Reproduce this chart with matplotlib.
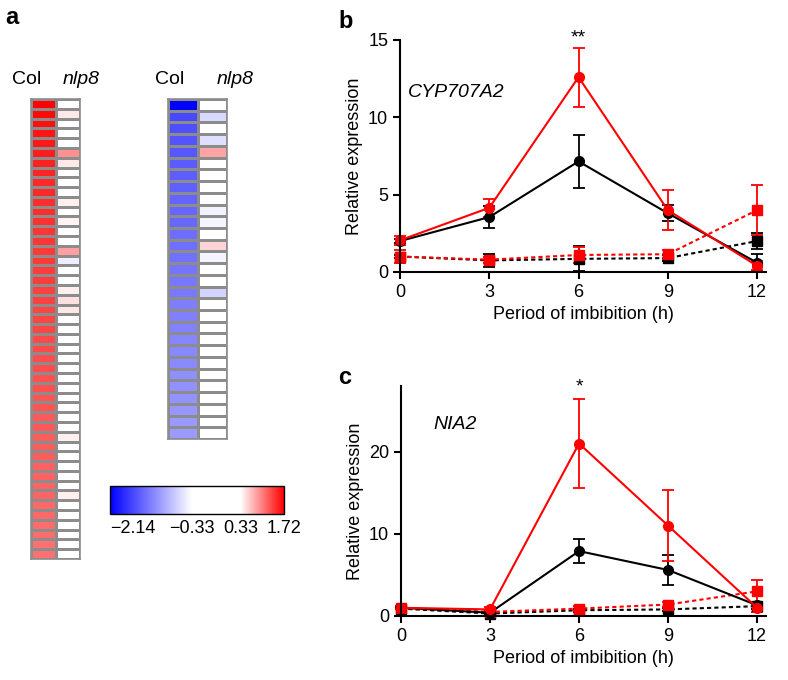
import numpy as np
import matplotlib
matplotlib.use("Agg")
import matplotlib.pyplot as plt
from matplotlib.colors import LinearSegmentedColormap, FuncNorm
from matplotlib.cm import ScalarMappable

plt.rcParams['font.family'] = ['Liberation Sans', 'DejaVu Sans']

# heatmap values (log ratio), top row first
left_col = [1.72, 1.66, 1.62, 1.60, 1.58, 1.55, 1.53, 1.52, 1.50, 1.49,
            1.47, 1.46, 1.45, 1.43, 1.42, 1.41, 1.40, 1.39, 1.38, 1.37,
            1.36, 1.35, 1.34, 1.33, 1.32, 1.31, 1.30, 1.29, 1.28, 1.27,
            1.26, 1.25, 1.24, 1.23, 1.22, 1.21, 1.20, 1.19, 1.18, 1.17,
            1.16, 1.15, 1.14, 1.13, 1.12, 1.11, 1.10]
left_nlp8 = [0.0, 0.45, 0.0, 0.0, 0.0, 0.93, 0.45, 0.0, 0.0, 0.0,
             0.40, 0.0, 0.38, 0.0, 0.0, 0.85, -0.45, 0.0, 0.0, 0.40,
             0.50, 0.45, 0.0, 0.0, 0.0, 0.0, 0.0, 0.0, 0.0, 0.0,
             0.0, 0.0, 0.0, 0.0, 0.40, 0.0, 0.0, 0.0, 0.0, 0.0,
             0.40, 0.0, 0.0, 0.0, 0.0, 0.0, 0.0]
right_col = [-2.14, -1.62, -1.58, -1.55, -1.52, -1.49, -1.47, -1.45, -1.43, -1.41,
             -1.39, -1.37, -1.35, -1.33, -1.31, -1.29, -1.27, -1.25, -1.23, -1.21,
             -1.19, -1.17, -1.15, -1.13, -1.11, -1.09, -1.07, -1.05, -1.03]
right_nlp8 = [0.0, -0.60, 0.0, -0.55, 0.82, 0.0, 0.0, 0.0, 0.0, -0.42,
              -0.40, 0.0, 0.55, -0.40, 0.0, 0.0, -0.65, 0.0, 0.0, 0.0,
              0.0, 0.0, 0.0, 0.0, 0.0, 0.0, 0.0, 0.0, 0.0]
cb_ticks = [-2.14, -0.33, 0.33, 1.72]
cb_stops = [0.0, 0.47, 0.75, 1.0]   # where each tick value sits along the bar

# qPCR time course
hours = [0, 3, 6, 9, 12]
cyp_red = [2.05, 4.15, 12.6, 4.0, 0.4]
cyp_red_err = [0.3, 0.6, 1.9, 1.3, 0.3]
cyp_black = [2.0, 3.55, 7.15, 3.8, 0.6]
cyp_black_err = [0.15, 0.7, 1.7, 0.5, 0.55]
cyp_red_dash = [1.0, 0.8, 1.1, 1.15, 4.0]
cyp_red_dash_err = [0.4, 0.2, 0.5, 0.3, 1.6]
cyp_black_dash = [1.0, 0.75, 0.85, 0.9, 2.0]
cyp_black_dash_err = [0.1, 0.4, 0.8, 0.2, 0.5]

nia_red = [1.0, 0.8, 21.0, 11.0, 1.0]
nia_red_err = [0.2, 0.3, 5.4, 4.3, 0.5]
nia_black = [1.0, 0.4, 7.9, 5.6, 1.3]
nia_black_err = [0.1, 0.2, 1.5, 1.8, 0.4]
nia_red_dash = [1.0, 0.5, 0.9, 1.4, 3.0]
nia_red_dash_err = [0.2, 0.2, 0.3, 0.3, 1.4]
nia_black_dash = [0.9, 0.3, 0.7, 0.8, 1.2]
nia_black_dash_err = [0.1, 0.1, 0.2, 0.2, 0.4]

# piecewise colour scale: blue -> white band (-0.33..0.33) -> red
norm = FuncNorm((lambda v: np.interp(v, cb_ticks, cb_stops),
                 lambda p: np.interp(p, cb_stops, cb_ticks)),
                vmin=cb_ticks[0], vmax=cb_ticks[-1])
cmap = LinearSegmentedColormap.from_list(
    "bwr_flat", [(cb_stops[0], "#0000ff"), (cb_stops[1], "white"),
                 (cb_stops[2], "white"), (cb_stops[3], "#ff0000")])

W, H = 788, 680
fig = plt.figure(figsize=(W / 100, H / 100), dpi=100)


def px(x0, y0, x1, y1):
    return [x0 / W, 1 - y1 / H, (x1 - x0) / W, (y1 - y0) / H]


def heat(rect, a, b):
    ax = fig.add_axes(rect)
    data = np.column_stack([a, b])
    ax.pcolormesh(data, cmap=cmap, norm=norm, edgecolors="#8c8c8c", linewidth=0.9)
    ax.set_xlim(0, 2)
    ax.set_ylim(len(a), 0)
    for s in ax.spines.values():
        s.set_color("#8c8c8c")
        s.set_linewidth(1.2)
    ax.set_xticks([])
    ax.set_yticks([])
    return ax


heat(px(31, 99, 80, 559), left_col, left_nlp8)
heat(px(168, 99, 227, 439), right_col, right_nlp8)

fig.text(12 / W, 1 - 80 / H, "Col", fontsize=14, va="center")
fig.text(63 / W, 1 - 80 / H, "nlp8", fontsize=14, va="center", style="italic")
fig.text(155 / W, 1 - 80 / H, "Col", fontsize=14, va="center")
fig.text(217 / W, 1 - 80 / H, "nlp8", fontsize=14, va="center", style="italic")

cax = fig.add_axes(px(110, 486, 284, 514))
cb = fig.colorbar(ScalarMappable(norm=norm, cmap=cmap), cax=cax,
                  orientation="horizontal", ticks=cb_ticks)
cb.ax.set_xticklabels([f"{t:.2f}".replace("-", "\u2212") for t in cb_ticks], fontsize=13)
cb.ax.get_xticklabels()[0].set_ha("left")
cb.ax.tick_params(length=0, pad=4)
cb.outline.set_linewidth(1.0)

fig.text(5 / W, 1 - 18 / H, "a", fontsize=17, fontweight="bold", va="center")
fig.text(338 / W, 1 - 22 / H, "b", fontsize=17, fontweight="bold", va="center")
fig.text(338 / W, 1 - 377 / H, "c", fontsize=17, fontweight="bold", va="center")


def panel(rect, series, ylim, yticks, gene, gene_xy, star, star_y):
    ax = fig.add_axes(rect)
    for y, e, color, ls, mk in series:
        ax.errorbar(hours, y, yerr=e, color=color, ls=ls, marker=mk, ms=7,
                    lw=1.5, elinewidth=1.3, capsize=4.5, capthick=1.3, clip_on=False)
    ax.set_xlim(0, 12.3)
    ax.set_ylim(*ylim)
    ax.set_xticks(hours)
    ax.set_yticks(yticks)
    ax.spines[["top", "right"]].set_visible(False)
    for s in ax.spines.values():
        s.set_linewidth(1.5)
    ax.tick_params(labelsize=13, width=1.5, length=5)
    ax.set_xlabel("Period of imbibition (h)", fontsize=13)
    ax.set_ylabel("Relative expression", fontsize=13)
    ax.text(*gene_xy, gene, fontsize=14, style="italic", va="center")
    ax.text(6, star_y, star, fontsize=14, ha="center", va="bottom")
    return ax


black, red = "black", "#ff0000"
dash = (0, (2, 1.5))
panel(px(400, 40, 766, 272),
      [(cyp_black_dash, cyp_black_dash_err, black, dash, "s"),
       (cyp_red_dash, cyp_red_dash_err, red, dash, "s"),
       (cyp_black, cyp_black_err, black, "-", "o"),
       (cyp_red, cyp_red_err, red, "-", "o")],
      (0, 15), [0, 5, 10, 15], "CYP707A2", (0.27, 11.6), "**", 14.6)

panel(px(401, 386, 766, 616),
      [(nia_black_dash, nia_black_dash_err, black, dash, "s"),
       (nia_red_dash, nia_red_dash_err, red, dash, "s"),
       (nia_black, nia_black_err, black, "-", "o"),
       (nia_red, nia_red_err, red, "-", "o")],
      (0, 28), [0, 10, 20], "NIA2", (1.1, 23.3), "*", 26.8)

fig.savefig("out.png", dpi=100)
